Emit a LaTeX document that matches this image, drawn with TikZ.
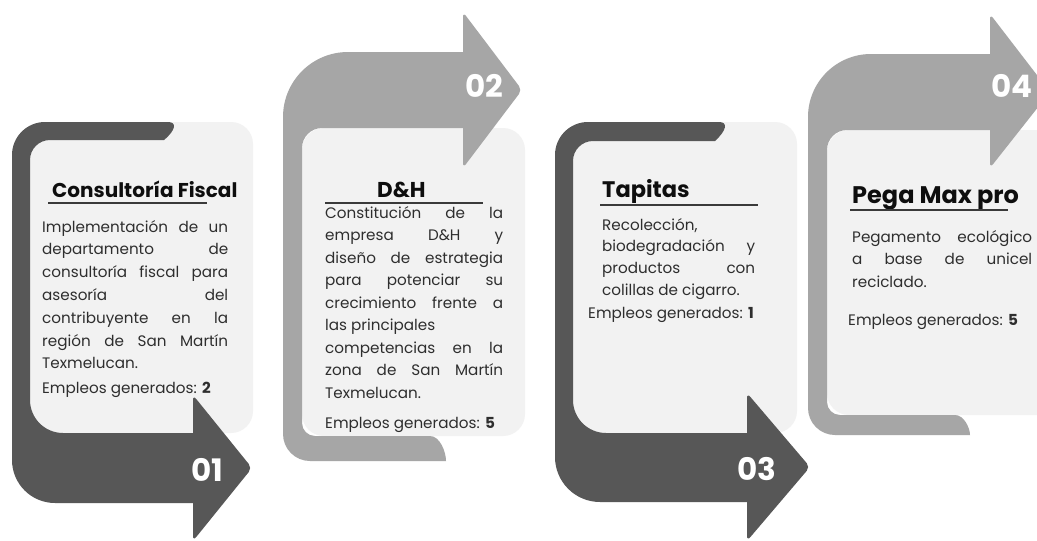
\documentclass[tikz,border=0pt]{standalone}
\usepackage{fontspec}
\setmainfont{Poppins}
\definecolor{bandD}{HTML}{575757}
\definecolor{bandL}{HTML}{A6A6A6}
\definecolor{cardC}{HTML}{F2F2F2}
\definecolor{bodyC}{HTML}{2E2E2E}
\definecolor{titleC}{HTML}{0E0E0E}
\definecolor{ruleC}{HTML}{3A3A3A}
\newcommand{\myjust}[1]{\makebox[\linewidth][s]{#1}}
\newcommand{\myleft}[1]{\makebox[\linewidth][l]{#1}}
\tikzset{
  card/.style={fill=cardC, rounded corners=22pt},
  head/.style={rounded corners=5pt},
  body/.style={inner sep=0pt, anchor=base west, text=bodyC, font=\fontsize{15.2}{22.8}\selectfont},
  ttl/.style={inner sep=0pt, anchor=base west, text=titleC, font=\fontsize{20}{24}\selectfont\bfseries},
  num/.style={inner sep=0pt, anchor=center, text=white, font=\fontsize{31}{31}\selectfont\bfseries},
  rul/.style={draw=ruleC, line width=2pt},
}
\begin{document}
\begin{tikzpicture}[x=1pt,y=-1pt]
\useasboundingbox (0,0) rectangle (1037,541);
\clip (0,0) rectangle (1037,541);
\fill[white] (0,0) rectangle (1037,541);

% ---------- 01 ----------
\fill[card] (30,122) rectangle (253,433);
\fill[bandD] (12,155) arc[start angle=180,end angle=270,radius=33] -- (168,122)
  .. controls (177,122) and (176,130) .. (164,140) -- (50,140)
  arc[start angle=270,end angle=180,radius=20] -- (30,400)
  arc[start angle=180,end angle=90,radius=33] -- (200,433) -- (200,503) -- (55,503)
  arc[start angle=90,end angle=180,radius=43] -- cycle;
\fill[bandD, head] (193,395) -- (252,468) -- (193,541) -- cycle;
\node[num] (n1) at (207,470) {01};
\node[ttl] (t1) at (52,197) {Consultoría Fiscal};
\coordinate (u1a) at (48,203); \coordinate (u1b) at (207,203);
\draw[rul] (u1a) -- (u1b);
\node[body] (b1) at (42,232) {\parbox[t]{186pt}{%
\myjust{Implementación de un}\\
\myjust{departamento de}\\
\myjust{consultoría fiscal para}\\
\myjust{asesoría del}\\
\myjust{contribuyente en la}\\
\myjust{región de San Martín}\\
\myleft{Texmelucan.}}};
\node[body] (e1) at (42,393) {Empleos generados: \textbf{2}};

% ---------- 02 ----------
\fill[card] (302,128) rectangle (525,436);
\fill[bandL] (283,117) arc[start angle=180,end angle=270,radius=65] -- (470,52) -- (470,128) -- (322,128)
  arc[start angle=270,end angle=180,radius=20] -- (302,423)
  arc[start angle=180,end angle=90,radius=13] -- (430,436)
  .. controls (440,436) and (446,452) .. (446,461) -- (310,461)
  arc[start angle=90,end angle=180,radius=27] -- cycle;
\fill[bandL, head] (463,12) -- (522,90) -- (463,168) -- cycle;
\node[num] (n2) at (484,86) {02};
\node[ttl, font=\fontsize{21.5}{24}\selectfont\bfseries] (t2) at (377,197) {D\&H};
\coordinate (u2a) at (325,203); \coordinate (u2b) at (483,203);
\draw[rul] (u2a) -- (u2b);
\node[body] (b2) at (325,218) {\parbox[t]{178pt}{\fontsize{15.2}{22.5}\selectfont
\myjust{Constitución de la}\\
\myjust{empresa D\&H y}\\
\myjust{diseño de estrategia}\\
\myjust{para potenciar su}\\
\myjust{crecimiento frente a}\\
\myleft{las principales}\\
\myjust{competencias en la}\\
\myjust{zona de San Martín}\\
\myleft{Texmelucan.}}};
\node[body] (e2) at (325,428) {Empleos generados: \textbf{5}};

% ---------- 03 ----------
\fill[card] (573,122) rectangle (797,433);
\fill[bandD] (555,155) arc[start angle=180,end angle=270,radius=33] -- (719,122)
  .. controls (728,122) and (727,130) .. (715,141) -- (593,141)
  arc[start angle=270,end angle=180,radius=20] -- (573,400)
  arc[start angle=180,end angle=90,radius=33] -- (752,433) -- (752,502) -- (600,502)
  arc[start angle=90,end angle=180,radius=45] -- cycle;
\fill[bandD, head] (747,393) -- (810,467) -- (747,541) -- cycle;
\node[num] (n3) at (757,469) {03};
\node[ttl, font=\fontsize{22.5}{24}\selectfont\bfseries] (t3) at (602,197) {Tapitas};
\coordinate (u3a) at (600,205); \coordinate (u3b) at (758,205);
\draw[rul] (u3a) -- (u3b);
\node[body] (b3) at (602,230) {\parbox[t]{153pt}{\fontsize{15.2}{21.7}\selectfont
\myleft{Recolección,}\\
\myjust{biodegradación y}\\
\myjust{productos con}\\
\myleft{colillas de cigarro.}}};
\node[body] (e3) at (588,318) {Empleos generados: \textbf{1}};

% ---------- 04 ----------
\fill[card] (827,130) rectangle (1060,415);
\fill[bandL] (808,117) arc[start angle=180,end angle=270,radius=63] -- (995,54) -- (995,130) -- (847,130)
  arc[start angle=270,end angle=180,radius=20] -- (827,402)
  arc[start angle=180,end angle=90,radius=13] -- (955,415)
  .. controls (964,415) and (970,428) .. (970,435) -- (835,435)
  arc[start angle=90,end angle=180,radius=27] -- cycle;
\fill[bandL, head] (990,14) -- (1050,92) -- (990,168) -- cycle;
\node[num] (n4) at (1012,86) {04};
\node[ttl, font=\fontsize{24}{26}\selectfont\bfseries] (t4) at (852,203) {Pega Max pro};
\coordinate (u4a) at (850,210); \coordinate (u4b) at (1008,210);
\draw[rul] (u4a) -- (u4b);
\node[body] (b4) at (852,242) {\parbox[t]{180pt}{\fontsize{15.2}{22.5}\selectfont
\myjust{Pegamento ecológico}\\
\myjust{a base de unicel}\\
\myleft{reciclado.}}};
\node[body] (e4) at (848,325) {Empleos generados: \textbf{5}};
\end{tikzpicture}
\end{document}
